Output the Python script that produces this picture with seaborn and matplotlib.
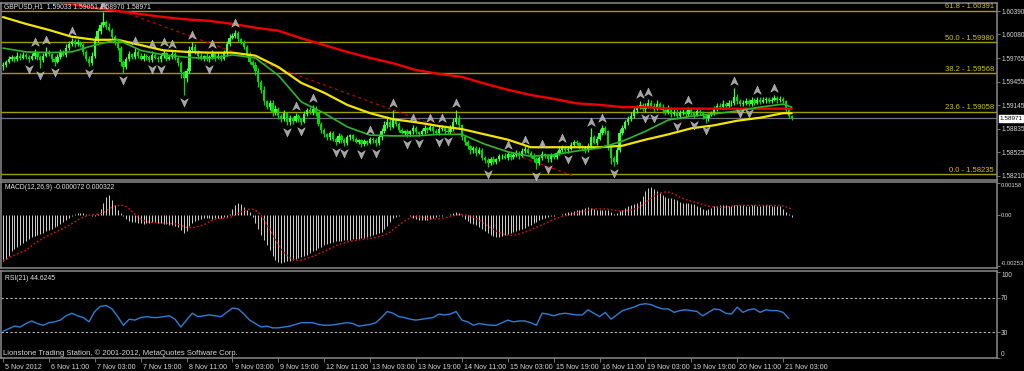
import numpy as np
import pandas as pd
import matplotlib
matplotlib.use("Agg")
import matplotlib.pyplot as plt
import seaborn as sns
from matplotlib.path import Path
from matplotlib.transforms import blended_transform_factory, ScaledTranslation

sns.set_theme(style="dark")
plt.rcParams["font.family"] = ["Liberation Sans", "DejaVu Sans"]

# ---------------- data (prices in pips above BASE) ----------------
BASE = 1.58
first_open_pips = 166
close_pips = [
    168,172,176,178,175,180,177,181,178,176,179,183,178,174,180,185,182,176,172,178,
    184,181,190,196,199,195,198,194,185,176,170,180,200,212,220,224,218,214,205,198,
    190,172,165,175,182,178,185,180,176,180,178,174,181,177,175,179,183,176,178,182,
    177,170,158,150,160,188,192,185,180,176,179,175,178,182,177,180,176,183,195,204,
    206,210,202,198,192,182,172,168,160,145,135,120,112,118,105,110,100,96,104,92,
    98,94,100,96,93,103,108,105,110,104,90,82,76,72,78,70,66,74,68,64,
    72,75,70,66,68,63,67,65,70,68,64,72,80,88,92,86,95,90,82,78,
    80,76,80,84,79,77,80,84,82,86,80,78,83,85,81,79,84,92,98,88,
    72,66,60,55,58,52,56,45,42,38,44,40,43,47,48,45,50,46,49,52,
    48,54,57,52,48,44,38,45,50,47,43,49,46,51,56,58,55,57,62,66,
    64,60,58,55,60,72,65,70,78,84,80,60,45,40,55,78,85,92,96,100,
    108,112,115,110,113,118,114,110,116,112,108,105,110,103,106,100,104,106,103,108,
    104,102,107,105,100,97,102,104,110,114,112,116,113,117,118,125,120,116,118,120,
    116,121,118,122,119,121,123,120,122,124,121,123,120,108,100,97,
]
wick_up = [
    3,2,4,3,2,5,3,4,2,3,4,6,2,3,4,7,3,2,3,4,
    5,3,6,4,5,3,4,2,3,2,4,5,6,5,4,14,3,5,3,2,
    4,3,2,3,4,2,5,3,3,4,2,3,5,2,3,4,6,2,3,4,
    3,2,3,2,4,5,6,3,2,3,2,4,3,5,2,3,2,5,4,5,
    4,4,3,2,3,2,3,2,3,4,3,5,2,4,3,5,2,3,4,2,
    3,2,4,3,2,4,3,4,5,3,2,3,2,2,3,2,3,4,2,3,
    3,2,2,3,2,2,3,2,3,2,3,4,5,6,8,4,13,3,2,3,
    2,3,2,4,3,2,3,4,2,3,2,3,4,3,2,3,4,6,10,4,
    2,3,2,2,3,2,3,2,2,3,2,3,2,3,2,3,3,2,3,3,
    2,4,3,2,2,3,2,3,4,2,3,3,2,3,3,4,2,3,4,3,
    3,2,2,3,4,12,3,4,5,4,3,2,3,2,4,5,4,3,4,5,
    4,3,5,3,4,5,4,3,5,3,4,3,5,2,4,3,4,3,2,4,
    3,3,4,2,2,3,2,3,4,3,4,5,3,4,3,12,5,3,3,4,
    3,4,3,4,3,4,3,3,4,4,3,4,3,2,2,1,
]
wick_dn = [
    5,3,2,3,4,2,3,2,3,4,2,3,4,10,3,2,3,4,5,2,
    3,2,3,2,3,4,2,3,4,3,4,2,3,2,3,2,3,2,3,4,
    3,6,8,3,2,3,2,3,2,3,4,2,3,2,3,4,2,3,2,3,
    3,4,8,22,5,3,2,3,4,2,3,2,3,2,4,2,3,2,3,2,
    2,3,4,3,3,4,3,4,5,6,4,5,3,4,5,3,4,3,2,4,
    3,4,2,3,4,2,3,2,3,4,3,4,3,4,3,3,4,2,3,4,
    2,3,3,2,3,4,2,3,2,3,4,2,3,2,3,4,2,3,3,2,
    3,4,2,3,2,3,2,3,4,2,3,2,3,2,4,3,2,3,2,4,
    3,4,3,5,3,4,2,3,4,5,2,3,3,2,3,2,3,4,2,3,
    4,2,3,2,3,4,8,2,3,2,4,3,2,3,2,3,2,3,2,3,
    2,3,3,4,2,3,2,3,2,3,4,5,8,6,3,2,3,2,3,2,
    3,4,2,3,4,2,3,4,2,3,4,3,2,4,3,4,2,3,4,3,
    3,4,2,3,4,6,3,2,2,3,2,3,4,2,3,3,4,3,2,3,
    3,2,3,2,3,2,3,3,2,2,3,2,3,4,3,2,
]
# MACD main line, units of 1e-5
macd_e5 = [
    -225,-215,-200,-180,-170,-160,-150,-140,-130,-120,
    -110,-104,-98,-92,-86,-80,-74,-68,-60,-52,-44,-35,
    -25,-15,-5,5,10,12,10,
    4,0,-3,-2,8,
    30,60,90,99,75,50,25,
    10,-5,-20,-28,-32,-35,-38,-40,-42,-40,-38,-36,-35,-38,-40,-42,-45,-48,-50,-52,-60,-75,
    -89,-80,-55,
    -40,-30,-22,-18,-15,-12,-15,-18,-16,-14,-12,-10,-8,
    5,30,50,59,55,40,25,
    15,-10,-40,-70,-99,-125,-150,-175,-200,-220,-232,
    -235,-232,-228,-225,-220,-215,-210,-207,
    -200,-195,-188,-180,-173,-165,-158,-150,-143,-137,
    -133,-130,-128,-126,-125,-124,-122,-120,-118,-116,-114,-112,-109,-105,-100,-95,-90,
    -84,-70,-55,-35,-15,-8,
    -3,0,2,0,-5,-12,
    -20,-25,-26,-25,-22,-18,-12,
    -8,-5,-2,0,2,5,
    10,15,12,
    -5,-20,-30,-38,-42,
    -50,-60,-70,-80,-90,-98,-105,-109,
    -108,-104,-100,-95,-90,-85,-80,-74,-68,-62,-55,-48,-40,-32,-25,
    -18,-12,-8,-4,-2,0,3,
    8,12,15,18,22,25,28,32,36,40,38,
    32,28,25,26,27,25,18,8,12,
    20,28,36,44,50,55,59,70,
    95,120,135,138,132,
    120,110,100,92,86,84,80,74,68,
    62,60,59,58,55,48,40,30,
    25,30,
    38,44,48,49,50,49,48,47,50,52,51,49,48,47,49,50,48,47,49,50,49,48,47,46,45,
    30,15,5,-7,
]
# RSI(21) sampled every second bar
rsi_even = [
    31,34,37,36,40,43,40,38,41,42,
    44,49,52,49,47,42,54,60,61,57,
    48,38,45,44,47,48,47,47,48,49,
    45,36,44,52,48,49,50,49,48,53,
    58,57,51,44,40,36,37,35,35,36,
    37,39,41,41,41,39,38,38,39,40,
    41,40,37,38,39,41,47,54,52,48,
    47,45,44,45,46,47,51,50,51,54,
    44,42,38,40,39,38,38,41,44,42,
    43,43,41,38,52,51,49,51,52,51,
    50,50,56,52,48,53,45,50,55,57,
    59,62,63,62,59,57,57,53,55,56,
    55,54,49,53,57,56,52,51,59,53,
    56,57,53,56,55,55,53,46,
]
ma_bars = list(range(0, 276, 8)) + [275]
red_ma_pips = [259,256,252,248,243,239,235,231,228,226,222,217,213,203,194,185,177,170,
               161,156,152,143,135,128,123,117,115,112,112,110,110,110,110,110,110,110]
yellow_ma_pips = [231,222,214,205,201,201,194,187,185,184,184,180,165,144,131,115,104,96,
                  92,87,83,76,69,59,59,59,59,61,69,76,84,88,94,98,104,104]
green_ma_pips = [190,185,184,185,194,201,187,181,178,176,181,177,154,119,104,86,75,74,
                 74,76,76,63,53,47,49,54,58,67,80,95,100,103,107,112,116,112]
trend_bars = [42, 199]
trend_pips = [238, 21]
fib_pct = ["61.8", "50.0", "38.2", "23.6", "0.0"]
fib_price = [1.60391, 1.59980, 1.59568, 1.59058, 1.58235]
price_ticks = [1.60390, 1.60080, 1.59765, 1.59455, 1.59145, 1.58835, 1.58525, 1.58210]
last_price = 1.58971
macd_ticks = [0.00158, 0.0, -0.00253]
macd_tick_labels = ["0.00158", "0.00", "-0.00253"]
rsi_ticks = [100, 70, 30, 0]
xtick_labels = ["5 Nov 2012", "6 Nov 11:00", "7 Nov 03:00", "7 Nov 19:00", "8 Nov 11:00",
                "9 Nov 03:00", "9 Nov 19:00", "12 Nov 11:00", "13 Nov 03:00", "13 Nov 19:00",
                "14 Nov 11:00", "15 Nov 03:00", "15 Nov 19:00", "16 Nov 11:00", "19 Nov 03:00",
                "19 Nov 19:00", "20 Nov 11:00", "21 Nov 03:00"]

# ---------------- derived frames ----------------
N = len(close_pips)
bars = np.arange(N)
c = BASE + np.array(close_pips) / 1e4
o = np.concatenate([[BASE + first_open_pips / 1e4], c[:-1]])
hi = np.maximum(o, c) + np.array(wick_up) / 1e4
lo = np.minimum(o, c) - np.array(wick_dn) / 1e4
macd = np.array(macd_e5) / 1e5
signal = pd.Series(macd).rolling(9, min_periods=1).mean().to_numpy()
df_ma = pd.DataFrame({"bar": ma_bars,
                      "red": BASE + np.array(red_ma_pips) / 1e4,
                      "yellow": BASE + np.array(yellow_ma_pips) / 1e4,
                      "green": BASE + np.array(green_ma_pips) / 1e4})
df_rsi = pd.DataFrame({"bar": np.arange(0, 2 * len(rsi_even), 2), "rsi": rsi_even})
df_sig = pd.DataFrame({"bar": bars, "sig": signal})

# ---------------- figure ----------------
W, H = 1024, 371
fig = plt.figure(figsize=(W / 100, H / 100), dpi=100, facecolor="black")

def rect(top, bottom):
    return [1 / W, 1 - bottom / H, 996 / W, (bottom - top) / H]

ax1 = fig.add_axes(rect(3, 180))
ax2 = fig.add_axes(rect(182, 268))
ax3 = fig.add_axes(rect(271, 358))
XL = (-0.7, 346.6)
for ax in (ax1, ax2, ax3):
    ax.set_facecolor("black")
    ax.grid(False)
    ax.set_xlim(*XL)
    for s in ax.spines.values():
        s.set_color("#8a8a8a")
        s.set_linewidth(1.1)
    ax.yaxis.tick_right()
    ax.tick_params(axis="y", colors="#8a8a8a", labelcolor="#d8d8d8", labelsize=4.7,
                   length=2, width=0.6, pad=1.0, direction="out", right=True, left=False)
ax1.tick_params(axis="x", bottom=False, labelbottom=False)
ax2.tick_params(axis="x", bottom=False, labelbottom=False)

# ---- price panel ----
ax1.set_ylim(1.58157, 1.60496)
for p in fib_price:
    ax1.axhline(p, color="#a39a00", lw=1.0, zorder=1)
ax1.axhline(last_price, color="#6e7280", lw=0.9, zorder=1)
ax1.plot(trend_bars, BASE + np.array(trend_pips) / 1e4, color="#c00000", lw=0.9,
         ls=(0, (2.5, 2.5)), zorder=2)

up = c >= o
cols = np.where(up, "#3cff3c", "#00dc00")
ax1.vlines(bars, lo, hi, colors=cols, lw=0.9, zorder=3)
body = np.where(np.abs(c - o) < 1e-6, 0.00003, c - o)
ax1.bar(bars, body, bottom=o, width=0.8, color=cols, linewidth=0, zorder=3)

sns.lineplot(data=df_ma, x="bar", y="red", ax=ax1, color="#f00000", lw=1.7, zorder=4)
sns.lineplot(data=df_ma, x="bar", y="yellow", ax=ax1, color="#f2e600", lw=1.6, zorder=4)
sns.lineplot(data=df_ma, x="bar", y="green", ax=ax1, color="#2cb82c", lw=1.2, zorder=4)

# Bill Williams fractals
up_marker = Path([(0, 1), (0.85, -0.85), (0, -0.3), (-0.85, -0.85), (0, 1)],
                 [Path.MOVETO, Path.LINETO, Path.LINETO, Path.LINETO, Path.CLOSEPOLY])
dn_marker = Path([(0, -1), (0.85, 0.85), (0, 0.3), (-0.85, 0.85), (0, -1)],
                 [Path.MOVETO, Path.LINETO, Path.LINETO, Path.LINETO, Path.CLOSEPOLY])
fu = [i for i in range(2, N - 2) if hi[i] > max(hi[i - 2], hi[i - 1], hi[i + 1], hi[i + 2])]
fd = [i for i in range(2, N - 2) if lo[i] < min(lo[i - 2], lo[i - 1], lo[i + 1], lo[i + 2])]
ax1.plot(fu, hi[fu] + 0.0009, ls="none", marker=up_marker, ms=6.5, mfc="#a4a4a4",
         mec="#d0d0d0", mew=0.3, zorder=5, clip_on=True)
ax1.plot(fd, lo[fd] - 0.0009, ls="none", marker=dn_marker, ms=6.5, mfc="#a4a4a4",
         mec="#d0d0d0", mew=0.3, zorder=5, clip_on=True)

ax1.set_yticks(price_ticks)
ax1.set_yticklabels([f"{t:.5f}" for t in price_ticks])
ax1.set_xlabel("")
ax1.set_ylabel("")

tr = blended_transform_factory(ax1.transAxes, ax1.transData)
for pct, p in zip(fib_pct, fib_price):
    ax1.text(0.997, p + 0.00006, f"{pct} - {p:.5f}", transform=tr, ha="right", va="bottom",
             color="#d2c800", fontsize=5.5, zorder=6)
ax1.text(1.0025, last_price, f"{last_price:.5f}", transform=tr, ha="left", va="center",
         color="black", fontsize=4.6, clip_on=False, zorder=7,
         bbox=dict(boxstyle="square,pad=0.12", fc="white", ec="white"))

# ---- MACD panel ----
ax2.set_ylim(-0.00262, 0.00165)
ax2.vlines(bars, 0, macd, colors="#d2d2d2", lw=0.7, zorder=2)
sns.lineplot(data=df_sig, x="bar", y="sig", ax=ax2, color="#e81010", lw=1.0,
             ls=(0, (1.2, 1.6)), zorder=3)
ax2.set_yticks(macd_ticks)
ax2.set_yticklabels(macd_tick_labels)
ax2.tick_params(axis="y", labelsize=4.2)
ax2.get_yticklabels()[0].set_va("top")
ax2.get_yticklabels()[-1].set_va("bottom")
ax2.set_xlabel("")
ax2.set_ylabel("")

# ---- RSI panel ----
ax3.set_ylim(0, 101)
for lvl in (70, 30):
    ax3.axhline(lvl, color="#bdbdbd", lw=0.8, ls=(0, (2, 2)), zorder=1)
sns.lineplot(data=df_rsi, x="bar", y="rsi", ax=ax3, color="#2c7fd6", lw=1.0, zorder=3)
ax3.set_yticks(rsi_ticks)
ax3.set_yticklabels([str(t) for t in rsi_ticks])
ax3.get_yticklabels()[0].set_va("top")
ax3.get_yticklabels()[-1].set_va("bottom")
ax3.set_xticks(np.arange(0, 16 * len(xtick_labels), 16))
ax3.set_xticklabels(xtick_labels, ha="left")
ax3.tick_params(axis="x", colors="#8a8a8a", labelcolor="#d8d8d8", labelsize=5.1,
                length=3, width=0.6, pad=1.5, direction="out", bottom=True)
shift = ScaledTranslation(1.5 / 72, 0, fig.dpi_scale_trans)
for lab in ax3.get_xticklabels():
    lab.set_transform(lab.get_transform() + shift)
ax3.set_xlabel("")
ax3.set_ylabel("")

# ---- header texts ----
fig.text(4 / W, 1 - 7 / H, "GBPUSD,H1  1.59033 1.59051 1.58970 1.58971", color="#e6e6e6",
         fontsize=4.9, ha="left", va="center")
fig.text(5 / W, 1 - 188 / H, "MACD(12,26,9) -0.000072 0.000322", color="#e6e6e6",
         fontsize=4.9, ha="left", va="center")
fig.text(5 / W, 1 - 279 / H, "RSI(21) 44.6245", color="#e6e6e6",
         fontsize=4.9, ha="left", va="center")
fig.text(3 / W, 1 - 353 / H, "Lionstone Trading Station, \u00a9 2001-2012, MetaQuotes Software Corp.",
         color="#d8d8d8", fontsize=5.5, ha="left", va="center")

fig.savefig("out.png", dpi=100, facecolor="black")
